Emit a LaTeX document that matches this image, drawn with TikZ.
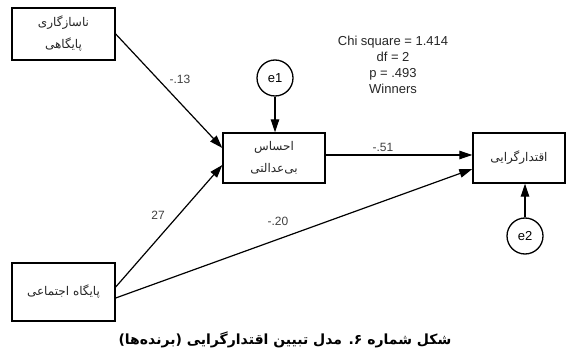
\documentclass[tikz,border=0pt]{standalone}
\usepackage{fontspec}
\setmainfont{Liberation Sans}
\newfontfamily\fa[Script=Arabic]{DejaVu Sans}
\TeXXeTstate=1
\usetikzlibrary{arrows.meta}
\begin{document}
\begin{tikzpicture}[x=1pt,y=-1pt,
  boxn/.style={draw,line width=1.4pt,inner sep=0pt,align=center,text=black!85,font=\fa\fontsize{12}{22}\selectfont},
  errn/.style={draw,circle,line width=1.3pt,minimum size=36pt,inner sep=0pt,font=\fontsize{13}{15}\selectfont},
  arr/.style={line width=1.2pt,-{Triangle[length=13pt,width=8.5pt]}},
  lab/.style={text=black!75,font=\fontsize{12}{14}\selectfont,inner sep=1pt}]
\useasboundingbox (0,0) rectangle (567,355);
\node[boxn,minimum width=103pt,minimum height=52pt] (b1) at (63.5,34) {\beginR ناسازگاری\endR\\\beginR پایگاهی\endR};
\node[boxn,minimum width=102pt,minimum height=50pt] (b2) at (274,158) {\beginR احساس\endR\\\beginR بی‌عدالتی\endR};
\node[boxn,minimum width=92pt,minimum height=50pt] (b4) at (519,158) {\beginR اقتدارگرایی\endR};
\node[boxn,minimum width=103pt,minimum height=58pt] (b5) at (63.5,292) {\beginR پایگاه اجتماعی\endR};
\node[errn] (e1) at (275,78) {e1};
\node[errn] (e2) at (525,236) {e2};
\node[align=center,text=black!85,font=\fontsize{13}{16}\selectfont] (stats) at (393,65) {Chi square = 1.414\\df = 2\\p = .493\\Winners};
\draw[arr] ([yshift=0pt]b1.east) -- ([yshift=10pt]b2.west);
\draw[arr] ([yshift=5pt]b5.east) -- ([yshift=-7pt]b2.west);
\draw[arr] ([yshift=-6pt]b5.east) -- ([yshift=-11pt]b4.west);
\draw[arr] ([yshift=3pt]b2.east) -- ([yshift=3pt]b4.west);
\draw[arr] (e1.south) -- (e1.south |- b2.north);
\draw[arr] (e2.north) -- (e2.north |- b4.south);
\node[lab] (l13) at (180,79) {-.13};
\node[lab] (l51) at (383,147) {-.51};
\node[lab] (l27) at (158,215) {27};
\node[lab] (l20) at (278,221) {-.20};
\node[font=\fa\bfseries\fontsize{14}{16}\selectfont] (cap) at (285,340) {\beginR شکل شماره ۶. مدل تبیین اقتدارگرایی (برنده‌ها)\endR};
\end{tikzpicture}
\end{document}
